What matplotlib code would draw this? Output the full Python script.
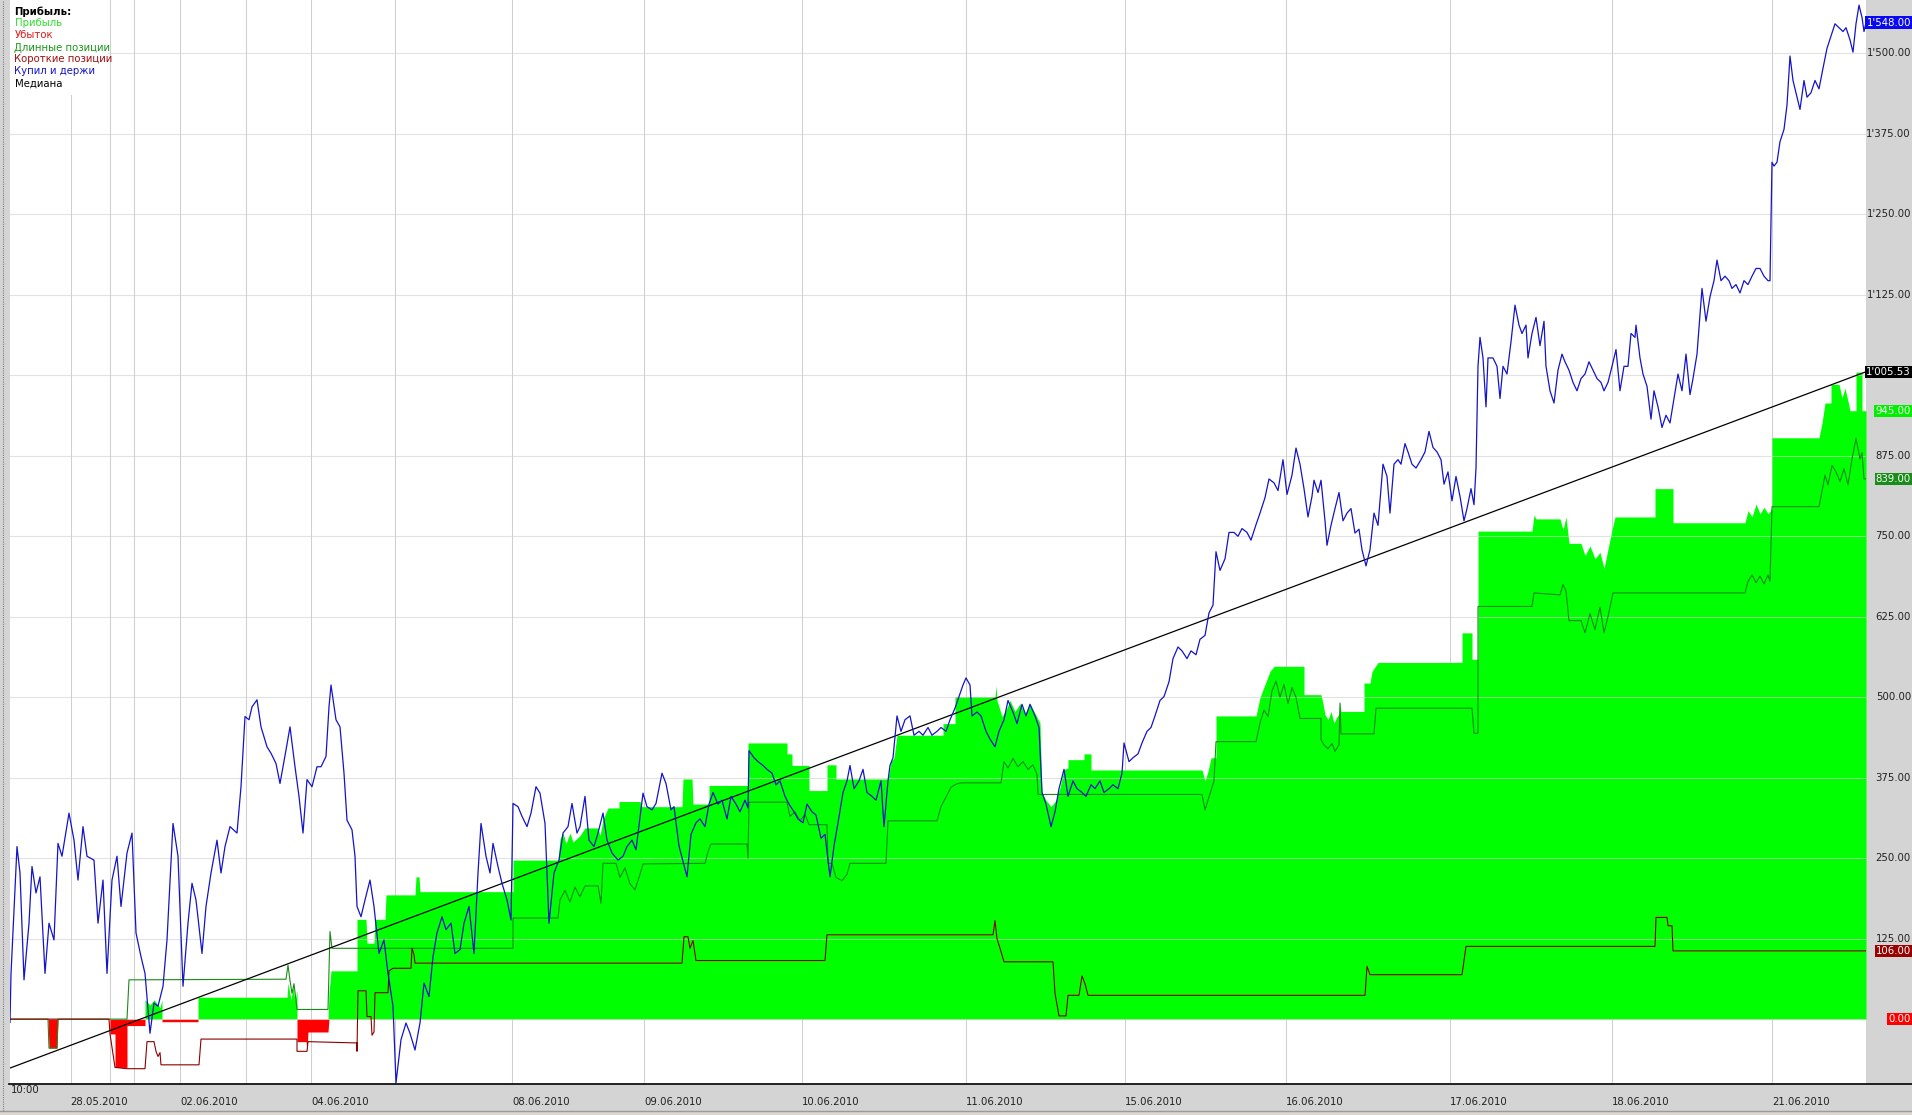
import matplotlib

matplotlib.use("Agg")

import matplotlib.pyplot as plt
import numpy as np
from matplotlib.lines import Line2D
from matplotlib.patches import Rectangle

plt.rcParams["font.family"] = ["DejaVu Sans"]

# canvas geometry (pixels)
W, H = 1912, 1115
PLOT_LEFT, PLOT_RIGHT, PLOT_BOTTOM = 10, 1866, 1083.5
PANEL = "#d4d4d4"
FS = 7.3

# x axis is the bar number
N_BARS = 1856
Y_MIN, Y_MAX = -100, 1583
Y_TICKS = list(range(0, 1501, 125))

DAY_BOUNDS = [60.5, 100, 123.5, 170, 235.5, 301, 385, 502, 634, 792, 956,
              1115, 1276, 1439.5, 1601.5, 1762]
DATE_TICKS = [60.5, 170, 301, 502, 634, 792, 956, 1115, 1276, 1439.5, 1601.5, 1762]
DATE_LABELS = ["28.05.2010", "02.06.2010", "04.06.2010", "08.06.2010", "09.06.2010",
               "10.06.2010", "11.06.2010", "15.06.2010", "16.06.2010", "17.06.2010",
               "18.06.2010", "21.06.2010"]
START_LABEL = "10:00"

# "Купил и держи" (buy and hold)
BLUE_BARS = [
    0, 1, 7, 10, 14, 19, 22, 26, 30, 35, 39, 44, 48, 52, 59, 64, 68, 73, 77, 84,
    88, 93, 97, 102, 107, 111, 117, 122, 126, 131, 135, 140, 144, 148, 153, 157, 163, 168, 173, 178,
    182, 186, 192, 196, 201, 207, 211, 215, 220, 227, 231, 235, 239, 242, 247, 251, 257, 261, 266, 270,
    276, 280, 285, 289, 293, 297, 302, 307, 311, 316, 319, 321, 326, 330, 334, 337, 342, 345, 347, 351,
    355, 360, 364, 369, 374, 378, 383, 386, 391, 396, 400, 405, 410, 414, 419, 423, 427, 432, 436, 441,
    445, 450, 454, 459, 464, 468, 471, 476, 480, 483, 488, 492, 497, 501, 503, 508, 512, 517, 521, 526,
    530, 535, 539, 544, 549, 553, 558, 562, 567, 570, 575, 579, 584, 588, 593, 597, 602, 608, 613, 617,
    622, 626, 633, 637, 642, 646, 652, 656, 661, 664,
    669, 677, 681, 686, 690, 695, 699, 703, 708, 712, 717, 721, 726, 730, 735, 738, 739, 744, 748, 753,
    757, 762, 766, 770, 775, 779, 784, 788, 793, 797, 802, 806, 811, 815, 820, 824, 828, 833, 837, 840,
    844, 849, 853, 857, 862, 866, 871, 874, 878, 880, 883, 887, 891, 895, 900, 904, 909, 913, 918, 922,
    927, 931, 936, 940, 945, 949, 953, 956, 960, 962, 967, 971, 976, 980, 985, 989, 994, 998, 1003, 1007,
    1012, 1016, 1020, 1025, 1029, 1032, 1036, 1041, 1045, 1049, 1054, 1058, 1063, 1067, 1072, 1076, 1081, 1085, 1090, 1094,
    1099, 1103, 1108, 1112, 1114, 1119, 1123, 1128, 1132, 1137, 1141, 1145, 1150, 1154, 1159, 1163, 1168, 1172, 1177, 1181,
    1186, 1190, 1195, 1199, 1203, 1206, 1210, 1215, 1219, 1224, 1228, 1232, 1237, 1241, 1246, 1250, 1255, 1259, 1264, 1268,
    1273, 1277, 1282, 1286,
    1290, 1294, 1298, 1302, 1304, 1308, 1311, 1315, 1317, 1321, 1325, 1329, 1333, 1337, 1341, 1345, 1349, 1352, 1356, 1360,
    1364, 1368, 1373, 1377, 1380, 1384, 1388, 1391, 1395, 1398, 1402, 1406, 1411, 1415, 1419, 1423, 1427, 1431, 1434, 1438,
    1442, 1446, 1450, 1454, 1457, 1461, 1464, 1466, 1468, 1470, 1473, 1476, 1478, 1483, 1487, 1490, 1493, 1497, 1501, 1505,
    1509, 1512, 1516, 1518, 1522, 1526, 1530, 1534, 1536, 1540, 1544, 1548, 1552, 1555, 1559, 1563, 1567, 1571, 1575, 1579,
    1583, 1587, 1591, 1594, 1598, 1602, 1606, 1610, 1614, 1618, 1621, 1625, 1626, 1630, 1633, 1637, 1641, 1644, 1648, 1652,
    1656, 1660, 1664, 1668, 1672, 1676, 1680, 1683, 1687, 1692, 1696, 1700, 1704, 1707, 1711, 1715, 1719, 1722, 1726, 1730,
    1734, 1738, 1742, 1746, 1750, 1754, 1758, 1760, 1762, 1764, 1767, 1770, 1774, 1777, 1780, 1783, 1786, 1790, 1794, 1797,
    1801, 1805, 1809, 1813, 1817, 1821, 1825, 1829, 1833, 1836, 1840, 1843, 1846, 1849, 1852, 1854, 1856,
]
BLUE_VALS = [
    -5, 70, 268, 227, 61, 149, 237, 196, 221, 71, 149, 123, 273, 253, 320, 278, 216, 299, 253, 247,
    149, 216, 71, 216, 253, 175, 258, 289, 134, 97, 71, -22, 25, 20, 51, 123, 304, 253, 51, 149,
    211, 185, 102, 175, 227, 278, 227, 268, 299, 289, 361, 470, 465, 485, 496, 454, 423, 413, 397, 366,
    418, 454, 392, 346, 289, 372, 361, 392, 392, 408, 485, 519, 465, 454, 382, 309, 294, 253, 175, 159,
    185, 216, 175, 102, 123, 71, 20, -99, -32, -6, -22, -48, -6, 56, 35, 97, 134, 159, 139, 149,
    102, 108, 149, 175, 102, 227, 304, 253, 227, 273, 237, 211, 185, 154, 335, 330, 315, 299, 320, 361,
    351, 304, 149, 227, 247, 289, 299, 335, 289, 299, 346, 278, 268, 289, 320, 278, 258, 247, 253, 268,
    278, 263, 351, 330, 325, 335, 382, 366, 325, 330,
    269, 221, 287, 305, 311, 299, 334, 352, 334, 340, 311, 346, 334, 322, 340, 328, 417, 406, 400, 394,
    388, 382, 364, 370, 346, 334, 322, 311, 305, 334, 322, 317, 281, 287, 221, 269, 305, 352, 370, 394,
    358, 370, 388, 352, 346, 340, 370, 299, 370, 394, 406, 471, 447, 465, 471, 441, 447, 441, 453, 441,
    447, 453, 447, 465, 483, 501, 519, 530, 519, 471, 477, 471, 447, 435, 423, 447, 465, 495, 477, 459,
    489, 471, 489, 471, 453, 352, 334, 299, 322, 358, 388, 346, 370, 358, 352, 346, 364, 358, 370, 352,
    358, 364, 358, 382, 429, 400, 406, 412, 429, 447, 453, 471, 495, 501, 524, 560, 578, 572, 560, 572,
    566, 590, 596, 631, 643, 726, 697, 715, 756, 756, 750, 762, 756, 744, 768, 786, 810, 839, 833, 821,
    869, 815, 845, 887,
    862, 824, 780, 812, 837, 818, 837, 774, 736, 767, 793, 818, 774, 786, 793, 755, 761, 729, 704, 729,
    786, 767, 862, 843, 786, 862, 869, 862, 894, 881, 862, 856, 869, 881, 913, 888, 881, 869, 831, 850,
    805, 843, 812, 774, 793, 824, 799, 856, 1014, 1059, 1027, 951, 1027, 1027, 1014, 964, 1014, 1002, 1052, 1109,
    1078, 1065, 1078, 1027, 1065, 1090, 1046, 1084, 1014, 976, 957, 1008, 1033, 1021, 1008, 989, 976, 995, 1002, 1021,
    1008, 995, 989, 976, 989, 1014, 1040, 976, 1014, 1014, 1065, 1059, 1078, 1027, 1002, 983, 932, 976, 951, 919,
    938, 926, 964, 1002, 976, 1033, 970, 995, 1033, 1135, 1084, 1122, 1147, 1179, 1147, 1154, 1147, 1135, 1141, 1128,
    1147, 1141, 1154, 1166, 1166, 1154, 1147, 1147, 1331, 1325, 1331, 1363, 1382, 1420, 1496, 1458, 1439, 1413, 1458, 1432,
    1439, 1458, 1445, 1477, 1508, 1527, 1546, 1540, 1534, 1540, 1521, 1502, 1546, 1575, 1556, 1534, 1548,
]

# "Прибыль" / "Убыток": total result, green above zero, red below
PROFIT_BARS = [
    0, 38, 39, 47, 48, 100, 100, 105, 105, 117, 117, 135, 135, 140, 144, 150, 152, 152, 188, 188,
    277, 278, 281, 283, 285, 287, 287, 296, 297, 298, 318, 319, 321, 347, 347, 356, 357, 364, 365, 375,
    376, 405, 406, 409, 410, 503, 503, 548, 550, 553, 556, 560, 563, 570, 575, 588, 590, 593, 598, 609,
    609, 630, 632, 672, 673, 682, 683, 699, 699, 738, 738, 777, 777, 782, 782, 799, 799, 817, 817, 826,
    826, 878, 881, 884, 887, 933, 933, 945, 945, 985, 986, 987, 992, 996, 1000, 1005, 1010, 1015, 1020, 1025,
    1030, 1032, 1036, 1041, 1046, 1050, 1054, 1058, 1058, 1074, 1074, 1081, 1081, 1192, 1195, 1198, 1201, 1206, 1206, 1246,
    1248, 1250, 1255, 1260, 1264, 1294, 1294, 1311, 1313, 1315, 1318, 1321, 1324, 1327, 1329, 1330, 1331, 1354, 1354, 1360,
    1362, 1368, 1452, 1452, 1462, 1462, 1468, 1468, 1522, 1524, 1526, 1550, 1553, 1556, 1559, 1571, 1575, 1580, 1585, 1590,
    1594, 1598, 1602, 1605, 1645, 1645, 1663, 1663, 1735, 1738, 1742, 1746, 1750, 1754, 1758, 1762, 1762, 1809, 1812, 1815,
    1821, 1821, 1829, 1832, 1835, 1838, 1840, 1846, 1846, 1852, 1852, 1856,
]
PROFIT_VALS = [
    0, 0, -45, -45, 0, 0, -23, -23, -75, -75, -10, -10, 30, 22, 30, 18, 30, -4, -4, 34,
    34, 56, 30, 50, 28, 45, -35, -35, -48, -20, -20, 40, 75, 75, 155, 155, 118, 118, 155, 155,
    193, 193, 221, 221, 198, 198, 247, 247, 280, 289, 273, 289, 275, 285, 297, 297, 285, 310, 328, 328,
    338, 338, 330, 330, 373, 373, 334, 334, 363, 363, 429, 429, 412, 412, 394, 394, 355, 355, 395, 395,
    373, 373, 400, 406, 441, 441, 459, 459, 501, 501, 518, 495, 470, 480, 495, 478, 490, 475, 490, 475,
    460, 352, 340, 330, 340, 360, 388, 390, 403, 403, 412, 412, 387, 387, 370, 385, 406, 406, 471, 471,
    485, 500, 520, 540, 548, 548, 504, 504, 490, 473, 465, 478, 460, 470, 473, 490, 478, 478, 522, 522,
    540, 554, 554, 600, 600, 559, 559, 758, 758, 783, 777, 777, 760, 780, 739, 739, 720, 735, 715, 725,
    700, 730, 760, 780, 780, 824, 824, 771, 771, 790, 780, 800, 785, 795, 785, 793, 903, 903, 926, 957,
    957, 986, 986, 965, 980, 960, 945, 945, 1005, 1005, 945, 945,
]

# "Длинные позиции" (long positions)
LONG_BARS = [
    0, 38, 39, 47, 48, 117, 119, 276, 278, 280, 282, 284, 287, 318, 320, 322, 503, 503, 548, 550,
    555, 560, 565, 570, 575, 588, 591, 593, 606, 610, 615, 620, 625, 630, 633, 695, 698, 701, 737, 738,
    739, 777, 780, 785, 790, 795, 799, 817, 818, 822, 826, 832, 837, 840, 876, 878, 927, 931, 936, 941,
    946, 951, 991, 994, 998, 1003, 1008, 1013, 1018, 1023, 1027, 1028, 1192, 1195, 1199, 1204, 1206, 1246, 1250, 1254,
    1258, 1262, 1266, 1270, 1274, 1278, 1282, 1286, 1290, 1311, 1311, 1314, 1318, 1322, 1325, 1329, 1330, 1331, 1364, 1366,
    1462, 1464, 1468, 1468, 1522, 1524, 1550, 1553, 1556, 1559, 1571, 1575, 1580, 1585, 1590, 1594, 1598, 1603, 1735, 1738,
    1742, 1746, 1750, 1754, 1758, 1760, 1762, 1809, 1812, 1815, 1818, 1822, 1826, 1830, 1834, 1838, 1842, 1846, 1850, 1852,
    1854, 1856,
]
LONG_VALS = [
    0, 0, -45, -45, 0, 0, 61, 62, 84, 60, 40, 55, 15, 15, 136, 110, 110, 157, 157, 185,
    200, 182, 205, 190, 207, 207, 180, 242, 242, 220, 235, 210, 201, 225, 241, 242, 260, 272, 272, 250,
    337, 337, 315, 322, 308, 318, 302, 302, 242, 242, 220, 215, 225, 242, 242, 308, 308, 330, 345, 360,
    365, 367, 367, 400, 390, 405, 392, 400, 388, 395, 380, 349, 349, 325, 345, 370, 431, 431, 460, 480,
    470, 510, 525, 500, 520, 490, 515, 500, 467, 467, 434, 426, 420, 428, 416, 426, 491, 443, 443, 483,
    483, 444, 444, 641, 641, 662, 659, 675, 665, 619, 619, 600, 630, 605, 640, 600, 625, 662, 662, 680,
    690, 678, 688, 676, 690, 680, 796, 796, 820, 845, 830, 860, 850, 835, 855, 830, 870, 902, 870, 880,
    839, 839,
]

# "Короткие позиции" (short positions)
SHORT_BARS = [
    0, 99, 100, 105, 117, 135, 137, 144, 146, 148, 150, 151, 189, 191, 287, 287, 297, 298, 347, 347,
    348, 356, 357, 361, 362, 364, 365, 378, 379, 383, 401, 402, 404, 405, 672, 674, 678, 680, 683, 686,
    815, 817, 983, 985, 987, 990, 994, 1043, 1045, 1049, 1056, 1058, 1069, 1072, 1075, 1078, 1355, 1357, 1360, 1452,
    1456, 1645, 1646, 1657, 1658, 1662, 1663, 1856,
]
SHORT_VALS = [
    0, 0, -23, -75, -77, -77, -35, -35, -50, -58, -52, -71, -71, -31, -31, -50, -50, -35, -37, -50,
    44, 44, 4, 4, -25, -20, 41, 41, 75, 79, 79, 110, 100, 87, 87, 128, 128, 110, 122, 91,
    91, 131, 131, 153, 125, 110, 89, 89, 40, 5, 5, 37, 37, 67, 55, 37, 37, 82, 69, 69,
    113, 113, 158, 158, 145, 145, 106, 106,
]

# "Медиана": straight line from the first to the last bar
MEDIAN_START, MEDIAN_END = -76, 1005.53

LEGEND_TITLE = "Прибыль:"
LEGEND_ITEMS = ["Прибыль", "Убыток", "Длинные позиции", "Короткие позиции", "Купил и держи", "Медиана"]
LEGEND_COLORS = ["#2ee02e", "#e01818", "#1a961a", "#a01010", "#1414c8", "#000000"]

LAST_VALUES = [1548.00, 1005.53, 945.00, 839.00, 106.00, 0.00]
LAST_COLORS = ["#0a0af0", "#000000", "#00f000", "#1a8c1a", "#990000", "#ff0000"]


def fmt(value: float) -> str:
    return f"{value:,.2f}".replace(",", "'")


def px_x(x: float) -> float:
    return x / W


def px_y(y: float) -> float:
    return 1 - y / H


def main() -> None:
    fig = plt.figure(figsize=(W / 100, H / 100), dpi=100, facecolor=PANEL)
    ax = fig.add_axes([px_x(PLOT_LEFT), px_y(PLOT_BOTTOM),
                       (PLOT_RIGHT - PLOT_LEFT) / W, PLOT_BOTTOM / H])
    ax.set_facecolor("white")
    ax.set_xlim(0, N_BARS)
    ax.set_ylim(Y_MIN, Y_MAX)
    ax.set_xticks([])
    ax.set_yticks([])
    for spine in ax.spines.values():
        spine.set_visible(False)

    for b in DAY_BOUNDS:
        ax.axvline(b, color="#cfcfcf", lw=0.75, zorder=1)

    pb = np.asarray(PROFIT_BARS, dtype=float)
    pv = np.asarray(PROFIT_VALS, dtype=float)
    ax.fill_between(pb, np.maximum(pv, 0), 0, color="#00ff00", lw=0, zorder=2)
    ax.fill_between(pb, np.minimum(pv, 0), 0, color="#ff0000", lw=0, zorder=2)

    for t in Y_TICKS:
        ax.axhline(t, color="#d0d0d0", lw=0.8, alpha=0.6, zorder=2.5)

    ax.plot(LONG_BARS, LONG_VALS, color="#1a8a1a", lw=0.8, zorder=3)
    ax.plot(SHORT_BARS, SHORT_VALS, color="#8b0000", lw=0.8, zorder=3)
    ax.plot([0, N_BARS], [MEDIAN_START, MEDIAN_END], color="black", lw=0.9, zorder=4)
    ax.plot(BLUE_BARS, BLUE_VALS, color="#1414c8", lw=0.9, zorder=5)

    # legend block in the top-left corner
    ax.add_patch(Rectangle((0, 1 - 95 / PLOT_BOTTOM), 97 / N_BARS, 95 / PLOT_BOTTOM,
                           transform=ax.transAxes, facecolor="white", lw=0, zorder=6))
    lx = 4.5 / (PLOT_RIGHT - PLOT_LEFT)
    ax.text(lx, 1 - 11.5 / PLOT_BOTTOM, LEGEND_TITLE, transform=ax.transAxes,
            fontsize=FS, fontweight="bold", va="center", zorder=7)
    for i, (name, col) in enumerate(zip(LEGEND_ITEMS, LEGEND_COLORS)):
        ax.text(lx, 1 - (23.5 + 12 * i) / PLOT_BOTTOM, name, transform=ax.transAxes,
                fontsize=FS, color=col, va="center", zorder=7)

    # right value scale
    ytr = ax.get_yaxis_transform()
    rx = (W - 1 - PLOT_LEFT) / (PLOT_RIGHT - PLOT_LEFT)
    for t in Y_TICKS:
        ax.text(rx, t, fmt(t), transform=ytr, ha="right", va="center",
                fontsize=FS, color="#202020", clip_on=False, zorder=8)
    for v, col in zip(LAST_VALUES, LAST_COLORS):
        ax.text(rx, v, fmt(v), transform=ytr, ha="right", va="center",
                fontsize=FS, color="white", clip_on=False, zorder=9,
                bbox=dict(boxstyle="square,pad=0.12", fc=col, ec="none"))

    # time scale
    xtr = ax.get_xaxis_transform()
    ax.text(1, -(1090 - PLOT_BOTTOM) / PLOT_BOTTOM, START_LABEL, transform=xtr,
            ha="left", va="center", fontsize=FS, color="#202020", clip_on=False)
    for b, lab in zip(DATE_TICKS, DATE_LABELS):
        ax.text(b, -(1102 - PLOT_BOTTOM) / PLOT_BOTTOM, lab, transform=xtr,
                ha="left", va="center", fontsize=FS, color="#202020", clip_on=False)

    # frame lines around the panels
    fig.add_artist(Line2D([px_x(9), 1], [px_y(PLOT_BOTTOM)] * 2, color="black", lw=1.2))
    fig.add_artist(Line2D([0, 1], [px_y(1111)] * 2, color="#9a9a9a", lw=1.0))
    fig.add_artist(Rectangle((0, 0), 1, px_y(1111.5), facecolor="#dcd8d0", lw=0))
    fig.add_artist(Line2D([px_x(3)] * 2, [px_y(1111), 1], color="#808080", lw=0.8,
                          linestyle=(0, (1, 1))))

    fig.savefig("out.png", dpi=100, facecolor=PANEL)
    plt.close(fig)


if __name__ == "__main__":
    main()
